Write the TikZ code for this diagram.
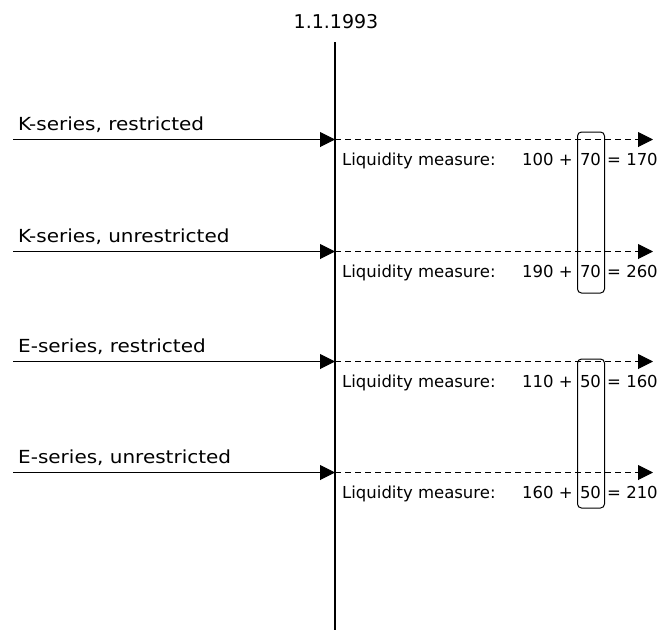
\documentclass[tikz,border=0pt]{standalone}
\usepackage{fontspec}
\setmainfont{DejaVu Sans}
\usetikzlibrary{arrows.meta}
\tikzset{
  txt/.style={inner sep=0pt, font=\fontsize{16.5}{19}\selectfont},
  lbl/.style={txt, anchor=base west},
  serieslbl/.style={inner sep=0pt, anchor=base west, font=\fontsize{18}{21}\selectfont},
  tip/.style={-{Triangle[length=15pt,width=15pt]}},
  solidarrow/.style={tip, line width=1pt},
  dasharrow/.style={tip, line width=1pt, dash pattern=on 6pt off 4pt},
  timeline/.style={line width=1.1pt},
  bracket/.style={draw, line width=1pt, rounded corners=4pt, minimum width=27pt, inner sep=0pt}
}
\begin{document}
\begin{tikzpicture}[x=1pt,y=-1pt]
\useasboundingbox (0,0) rectangle (657,630);
\node[inner sep=0pt, anchor=base, font=\fontsize{19}{22}\selectfont] (date) at (336,28) {1.1.1993};
\coordinate (top) at (335,42);
\coordinate (bot) at (335,630);
\draw[timeline] (top) -- (bot);

\foreach \i/\y/\name/\a/\b/\c in {1/139.5/{K-series, restricted}/100/70/170,
                                   2/251.5/{K-series, unrestricted}/190/70/260,
                                   3/361.5/{E-series, restricted}/110/50/160,
                                   4/472.5/{E-series, unrestricted}/160/50/210}{
  \coordinate (s\i) at (13,\y);
  \coordinate (m\i) at (335,\y);
  \coordinate (e\i) at (653,\y);
  \draw[solidarrow] (s\i) -- (m\i);
  \draw[dasharrow] (m\i) -- (e\i);
  \node[serieslbl] (lab\i) at (18,\y-9.5) {\scalebox{1.11}[1]{\name}};
  \node[lbl] (liq\i) at (342,\y+25.5) {Liquidity measure:};
  \node[txt, anchor=base east] (sum\i) at (573,\y+25.5) {\a\ +};
  \node[txt, anchor=base] (add\i) at (590.5,\y+25.5) {\b};
  \node[lbl] (res\i) at (607,\y+25.5) {= \c};
}
\node[bracket, minimum height=161pt] (box1) at (591,212.5) {};
\node[bracket, minimum height=149pt] (box2) at (591,433.5) {};
\end{tikzpicture}
\end{document}
